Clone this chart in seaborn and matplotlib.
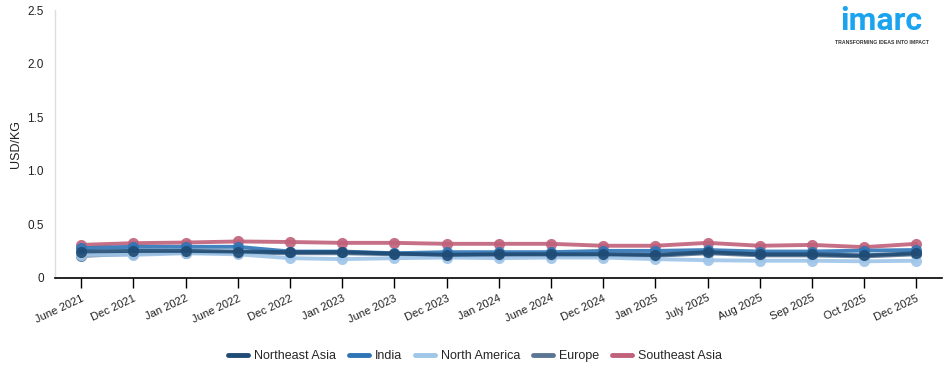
import matplotlib
matplotlib.use("Agg")
import matplotlib.pyplot as plt
import seaborn as sns
import pandas as pd

months = ["June 2021", "Dec 2021", "Jan 2022", "June 2022", "Dec 2022", "Jan 2023",
          "June 2023", "Dec 2023", "Jan 2024", "June 2024", "Dec 2024", "Jan 2025",
          "July 2025", "Aug 2025", "Sep 2025", "Oct 2025", "Dec 2025"]

northeast_asia = [0.246, 0.252, 0.252, 0.246, 0.24, 0.24, 0.227, 0.215, 0.22, 0.22,
                  0.22, 0.215, 0.24, 0.22, 0.22, 0.21, 0.23]
india = [0.277, 0.29, 0.29, 0.29, 0.246, 0.246, 0.23, 0.24, 0.24, 0.24,
         0.252, 0.252, 0.26, 0.246, 0.246, 0.255, 0.26]
north_america = [0.215, 0.215, 0.23, 0.22, 0.184, 0.175, 0.184, 0.19, 0.184, 0.19,
                 0.19, 0.175, 0.165, 0.16, 0.16, 0.155, 0.16]
europe = [0.205, 0.225, 0.235, 0.235, 0.23, 0.23, 0.22, 0.21, 0.21, 0.21,
          0.21, 0.205, 0.23, 0.21, 0.21, 0.2, 0.22]
southeast_asia = [0.308, 0.324, 0.33, 0.34, 0.335, 0.327, 0.327, 0.318, 0.318, 0.318,
                  0.30, 0.30, 0.327, 0.30, 0.308, 0.287, 0.318]

series = {
    "Northeast Asia": northeast_asia,
    "India": india,
    "North America": north_america,
    "Europe": europe,
    "Southeast Asia": southeast_asia,
}
colors = {
    "Northeast Asia": "#1f4b74",
    "India": "#2e75b6",
    "North America": "#9fc5e8",
    "Europe": "#5b7694",
    "Southeast Asia": "#c0617a",
}
draw_order = ["Europe", "North America", "Southeast Asia", "India", "Northeast Asia"]

rows = []
for name, vals in series.items():
    for i, (m, v) in enumerate(zip(months, vals)):
        rows.append({"Month": m, "idx": i, "Region": name, "Value": v})
df = pd.DataFrame(rows)

sns.set_theme(style="white")
plt.rcParams['font.family'] = ['Liberation Sans', 'DejaVu Sans']

fig = plt.figure(figsize=(9.5, 3.73), dpi=100)
ax = fig.add_axes([0.058, 0.255, 0.934, 0.718])

for name in draw_order:
    sub = df[df["Region"] == name]
    sns.lineplot(data=sub, x="idx", y="Value", ax=ax, color=colors[name],
                 linewidth=2.8, marker="o", markersize=8, markeredgewidth=0,
                 alpha=0.9, legend=False, zorder=3)

ax.set_xlim(-0.5, len(months) - 0.5)
ax.set_ylim(0, 2.5)
ax.set_xticks(range(len(months)))
ax.set_xticklabels(months, rotation=25, ha="right", rotation_mode="anchor",
                   fontsize=8, color="#222222")
ax.set_yticks([0, 0.5, 1.0, 1.5, 2.0, 2.5])
ax.set_yticklabels(["0", "0.5", "1.0", "1.5", "2.0", "2.5"], fontsize=8.5, color="#222222")
ax.set_xlabel("")
ax.set_ylabel("USD/KG", fontsize=9, color="#222222")

for s in ["top", "right"]:
    ax.spines[s].set_visible(False)
ax.spines["left"].set_color("#dddddd")
ax.spines["left"].set_linewidth(1)
ax.spines["bottom"].set_color("#000000")
ax.spines["bottom"].set_linewidth(1.2)
ax.tick_params(axis="y", length=5, color="#dddddd", pad=3)
ax.tick_params(axis="x", length=7, color="#000000", width=1, pad=4, bottom=True)
ax.grid(False)

from matplotlib.lines import Line2D
handles = [Line2D([0], [0], color=colors[n], linewidth=3.5) for n in series]
fig.legend(handles, list(series.keys()), loc="center", bbox_to_anchor=(0.5, 0.045),
           ncol=5, frameon=False, fontsize=9, handlelength=1.6, handletextpad=0.5,
           columnspacing=1.0)

fig.text(0.928, 1 - 30 / 373, "imarc", ha="center", va="baseline", fontsize=23,
         fontweight="bold", color="#1aa3ef", family=["Roboto", "DejaVu Sans"])
fig.text(0.928, 1 - 42 / 373, "TRANSFORMING IDEAS INTO IMPACT", ha="center", va="center",
         fontsize=3.7, fontweight="bold", color="#333333")

fig.savefig("out.png", dpi=100)
